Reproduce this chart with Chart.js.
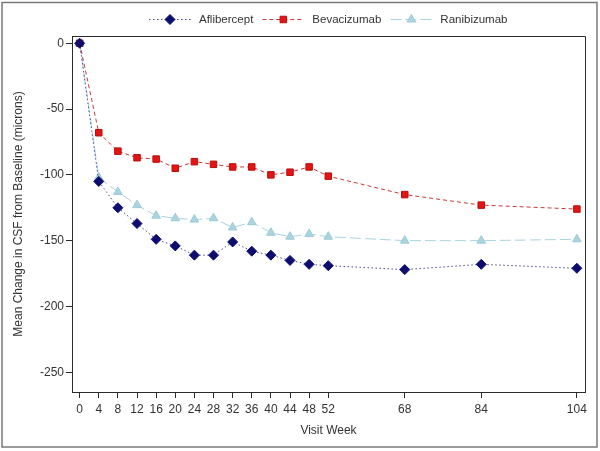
<!DOCTYPE html>
<html>
<head>
<meta charset="utf-8">
<script src="https://cdn.jsdelivr.net/npm/chart.js@4/dist/chart.umd.min.js"></script>
<style>
html,body{margin:0;padding:0;background:#fff;}
#wrap{width:600px;height:451px;position:relative;}
</style>
</head>
<body>
<div id="wrap"><canvas id="c" width="600" height="451"></canvas></div>
<script>
const weeks = [0,4,8,12,16,20,24,28,32,36,40,44,48,52,68,84,104];
const aflibercept = [0,-105,-125,-137,-149,-154,-161,-161,-151,-158,-161,-165,-168,-169,-172,-168,-171];
const bevacizumab = [0,-68,-82,-87,-88,-95,-90,-92,-94,-94,-100,-98,-94,-101,-115,-123,-126];
const ranibizumab = [0,-102,-113,-123,-131,-133,-134,-133,-140,-136,-144,-147,-145,-147,-150,-150,-149];
const yTicks = [0,-50,-100,-150,-200,-250];
const seriesNames = ['Aflibercept','Bevacizumab','Ranibizumab'];

const FONT = "'Liberation Sans', Arial, sans-serif";
const TXT = '#333333';

const styles = [
  {line:'#4b4b96', fill:'#0d0d70', border:'#0d0d70', dash:[1.5,2.5], point:'rectRot', r:5},
  {line:'#c83a3a', fill:'#e41414', border:'#b80f0f', dash:[4,3], point:'rect', r:4.6},
  {line:'#aad4e0', fill:'#aad4e0', border:'#9ccbd8', dash:[11,4], point:'triangle', r:5}
];
const values = [aflibercept, bevacizumab, ranibizumab];

const datasets = seriesNames.map((n,i)=>({
  label:n,
  data: weeks.map((w,j)=>({x:w,y:values[i][j]})),
  borderColor: styles[i].line,
  borderWidth: 1,
  borderDash: styles[i].dash,
  pointStyle: styles[i].point,
  pointRadius: styles[i].r,
  pointHoverRadius: styles[i].r,
  pointBackgroundColor: styles[i].fill,
  pointBorderColor: styles[i].border,
  pointBorderWidth: 1,
  tension: 0,
  fill: false
}));

function drawMarker(ctx, type, x, y, r, fill, border){
  ctx.save();
  ctx.setLineDash([]);
  ctx.fillStyle = fill; ctx.strokeStyle = border; ctx.lineWidth = 1;
  ctx.beginPath();
  if(type==='rectRot'){
    ctx.moveTo(x-r,y); ctx.lineTo(x,y-r); ctx.lineTo(x+r,y); ctx.lineTo(x,y+r); ctx.closePath();
  } else if(type==='rect'){
    const s = r*Math.SQRT1_2; ctx.rect(x-s,y-s,2*s,2*s);
  } else {
    const w = r*Math.sqrt(3);
    ctx.moveTo(x, y-r); ctx.lineTo(x+w/2, y+r/2); ctx.lineTo(x-w/2, y+r/2); ctx.closePath();
  }
  ctx.fill(); ctx.stroke();
  ctx.restore();
}

const framePlugin = {
  id:'frame',
  beforeDraw(chart){
    const ctx = chart.ctx;
    ctx.save();
    ctx.fillStyle = '#fff';
    ctx.fillRect(0,0,chart.width,chart.height);
    ctx.strokeStyle = '#7a7a7a';
    ctx.lineWidth = 1.5;
    ctx.strokeRect(2,2.5,595,444.5);
    ctx.restore();
  },
  afterDraw(chart){
    const ctx = chart.ctx, a = chart.chartArea;
    ctx.save();
    ctx.strokeStyle = '#2a2a2a';
    ctx.lineWidth = 1;
    ctx.beginPath();
    ctx.moveTo(Math.round(a.left)+0.5, Math.round(a.top)+0.5);
    ctx.lineTo(Math.round(a.right)+0.5, Math.round(a.top)+0.5);
    ctx.lineTo(Math.round(a.right)+0.5, Math.round(a.bottom)+0.5);
    ctx.stroke();
    // legend
    ctx.font = '11.5px ' + FONT;
    ctx.textBaseline = 'middle';
    ctx.fillStyle = TXT;
    let x = 149; const y = 19.5, L = 42;
    seriesNames.forEach((n,i)=>{
      const s = styles[i];
      ctx.save();
      ctx.strokeStyle = s.line; ctx.lineWidth = 1; ctx.setLineDash(s.dash);
      ctx.beginPath(); ctx.moveTo(x,y); ctx.lineTo(x+L,y); ctx.stroke();
      ctx.restore();
      drawMarker(ctx, s.point, x+L/2, y, s.r, s.fill, s.border);
      ctx.fillStyle = TXT;
      ctx.textAlign = 'left';
      ctx.fillText(n, x+L+8, y);
      x += L + 8 + ctx.measureText(n).width + 9;
    });
    ctx.restore();
  }
};

new Chart(document.getElementById('c'), {
  type:'line',
  data:{datasets},
  plugins:[framePlugin],
  options:{
    responsive:false,
    animation:false,
    events:[],
    layout:{padding:{top:36,right:15,bottom:0,left:0}},
    plugins:{legend:{display:false},tooltip:{enabled:false}},
    scales:{
      x:{
        type:'linear',
        min:-1.6, max:105.7,
        afterBuildTicks(scale){ scale.ticks = weeks.map(v=>({value:v})); },
        afterFit(scale){ scale.height = 59; },
        ticks:{color:TXT,font:{family:FONT,size:12},padding:4,maxRotation:0,autoSkip:false,callback:v=>String(v)},
        grid:{display:true,drawOnChartArea:false,drawTicks:true,tickLength:6,color:'#2a2a2a'},
        border:{display:true,color:'#2a2a2a'},
        title:{display:true,text:'Visit Week',color:TXT,font:{family:FONT,size:12},padding:{top:0,bottom:13}}
      },
      y:{
        type:'linear',
        min:-265, max:5.5,
        afterBuildTicks(scale){ scale.ticks = yTicks.map(v=>({value:v})); },
        afterFit(scale){ scale.width = 72; },
        ticks:{color:TXT,font:{family:FONT,size:12},padding:2,callback:v=>String(v)},
        grid:{display:true,drawOnChartArea:false,drawTicks:true,tickLength:6,color:'#2a2a2a'},
        border:{display:true,color:'#2a2a2a'},
        title:{display:true,text:'Mean Change in CSF from Baseline (microns)',color:TXT,font:{family:FONT,size:12},padding:{top:11,bottom:0}}
      }
    }
  }
});
</script>
</body>
</html>
